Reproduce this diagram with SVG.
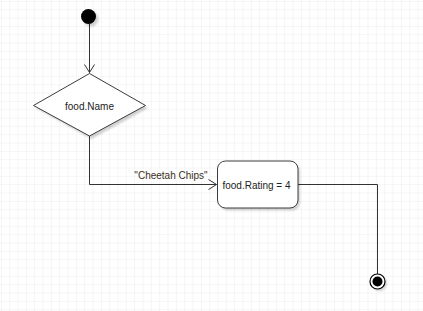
<svg xmlns="http://www.w3.org/2000/svg" width="423" height="311" viewBox="0 0 423 311">
<style>
.grid{stroke:#ececec;stroke-width:1;fill:none}
.shape{fill:#ffffff;stroke:#3c3c3c;stroke-width:1}
.shadow{fill:#000;opacity:0.18}
.edge{fill:none;stroke:#333333;stroke-width:1}
.lbl{font-family:"Liberation Sans",Arial,sans-serif;font-size:10px;fill:#222222}
.elbl{font-family:"Liberation Sans",Arial,sans-serif;font-size:10px;fill:#3a2e22}
</style>
<defs>
<pattern id="grid" x="0.9" y="0.9" width="8.333" height="8.333" patternUnits="userSpaceOnUse">
<path class="grid" d="M0 0 V8.333 M0 0 H8.333"/>
</pattern>
<filter id="blur" x="-20%" y="-20%" width="140%" height="140%"><feGaussianBlur stdDeviation="1"/></filter>
<marker id="open" markerWidth="12" markerHeight="12" refX="10" refY="5" orient="auto" markerUnits="userSpaceOnUse" overflow="visible">
<path d="M2 0 L10 5 L2 10" fill="none" stroke="#333333" stroke-width="1"/>
</marker>
</defs>
<rect width="423" height="311" fill="#ffffff"/>
<rect width="423" height="311" fill="url(#grid)"/>
<g id="connectors">
<path class="edge" d="M89.5 24 V72.5" marker-end="url(#open)"/>
<path class="edge" d="M89.5 136 V184.5 H216.5" marker-end="url(#open)"/>
<text class="elbl" x="171" y="179" text-anchor="middle">"Cheetah Chips"</text>
<path class="edge" d="M298 184.5 H377.5 V274"/>
</g>
<g id="start">
<circle class="shadow" cx="91" cy="19" r="7.5" filter="url(#blur)"/>
<circle cx="88.5" cy="16.5" r="7.5" fill="#000000"/>
</g>
<g id="decision">
<path class="shadow" d="M91.5 76 L148 108 L91.5 139 L36 108 Z" filter="url(#blur)"/>
<path class="shape" d="M89.5 73.5 L145.5 105.5 L89.5 136 L33.5 105.5 Z"/>
<text class="lbl" x="89.5" y="109.5" text-anchor="middle">food.Name</text>
</g>
<g id="action">
<rect class="shadow" x="220" y="163.5" width="80" height="47" rx="8" filter="url(#blur)"/>
<rect class="shape" x="217.5" y="161" width="80.5" height="47" rx="8"/>
<text class="lbl" x="256.5" y="188.5" text-anchor="middle">food.Rating = 4</text>
</g>
<g id="end">
<circle class="shadow" cx="379.5" cy="283.5" r="7.5" filter="url(#blur)"/>
<circle cx="377.5" cy="281.5" r="7.5" fill="#ffffff" stroke="#000000" stroke-width="1.2"/>
<circle cx="377.5" cy="281.5" r="5" fill="#000000"/>
</g>
</svg>
